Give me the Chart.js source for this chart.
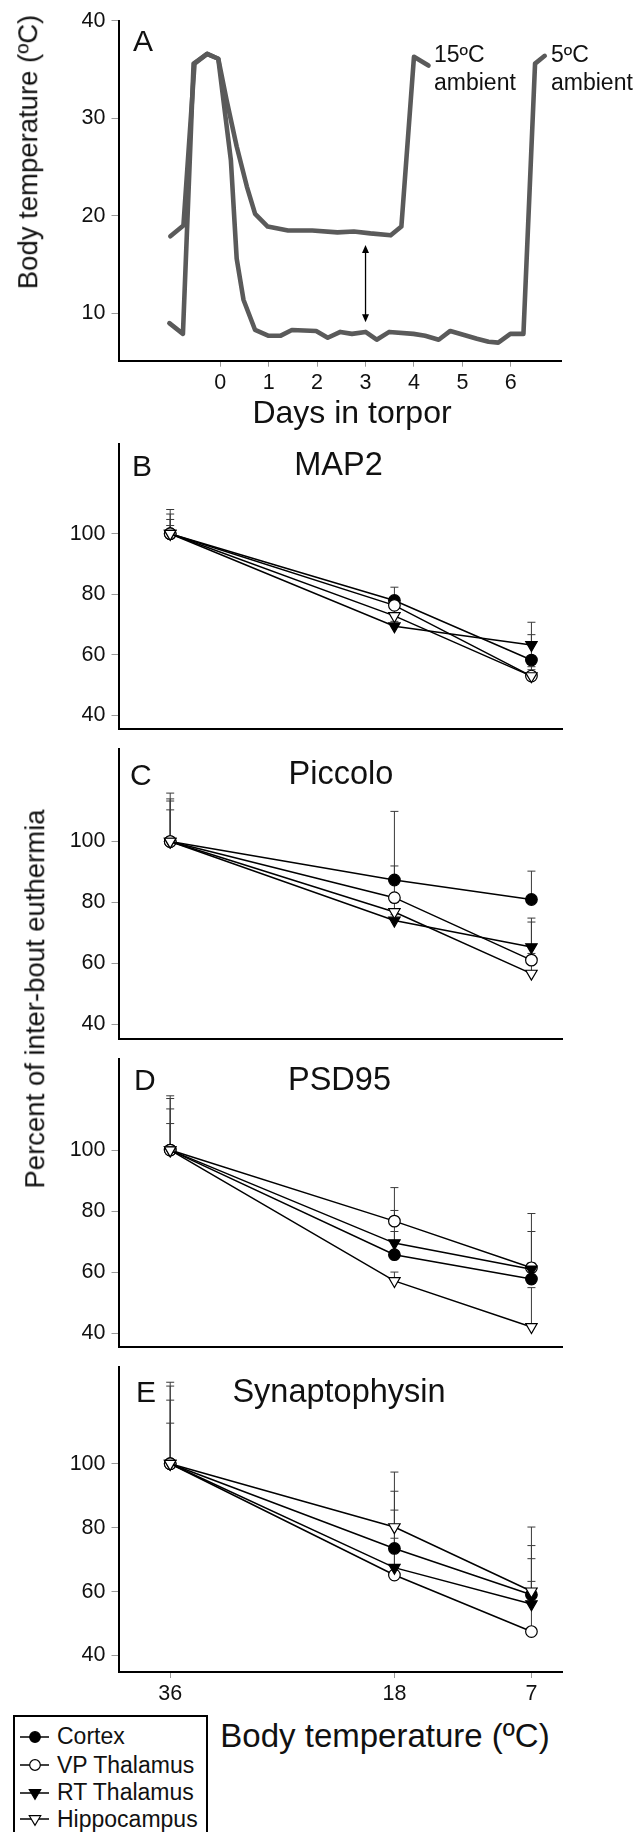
<!DOCTYPE html>
<html><head><meta charset="utf-8">
<script src="https://cdn.jsdelivr.net/npm/chart.js@4.4.0/dist/chart.umd.min.js"></script>
<style>
html,body{margin:0;padding:0;background:#fff;}
#wrap{position:relative;width:644px;height:1832px;overflow:hidden;font-family:'Liberation Sans',Arial,sans-serif;color:#111;}
canvas{position:absolute;left:0;}
.t{position:absolute;white-space:nowrap;line-height:1;}
</style></head><body><div id="wrap">
<canvas id="cA" width="644" height="440" style="top:0px"></canvas>
<canvas id="cB" width="644" height="323" style="top:425px"></canvas>
<canvas id="cC" width="644" height="328" style="top:730px"></canvas>
<canvas id="cD" width="644" height="326" style="top:1040px"></canvas>
<canvas id="cE" width="644" height="365" style="top:1348px"></canvas>
</div>
<script>
// ---------- Panel A data (body temperature, ºC, vs days in torpor) ----------
const days15 = [-1.03, -0.76, -0.53, -0.27, -0.04, 0.13, 0.34, 0.55, 0.72, 0.98, 1.40, 1.90, 2.42, 2.76, 3.10, 3.52, 3.74, 4.00, 4.30];
const temp15 = [17.9, 19.0, 35.6, 36.6, 36.1, 31.9, 27.1, 23.0, 20.2, 18.9, 18.5, 18.5, 18.3, 18.4, 18.2, 18.0, 18.9, 36.3, 35.4];
const days5 = [-1.05, -0.77, -0.55, -0.27, -0.04, 0.22, 0.34, 0.48, 0.72, 1.00, 1.24, 1.48, 1.98, 2.22, 2.48, 2.72, 3.00, 3.23, 3.49, 3.99, 4.23, 4.51, 4.75, 5.30, 5.54, 5.74, 5.99, 6.26, 6.50, 6.70];
const temp5 = [9.0, 7.9, 35.6, 36.6, 36.1, 25.7, 15.6, 11.4, 8.3, 7.7, 7.7, 8.3, 8.2, 7.5, 8.1, 7.9, 8.1, 7.3, 8.1, 7.9, 7.7, 7.3, 8.2, 7.4, 7.1, 7.0, 7.9, 7.9, 35.6, 36.4];
const arrowDay = 3, arrowTop = 17.0, arrowBottom = 9.1;
const dayTicks = [0, 1, 2, 3, 4, 5, 6];
const tempTicks = [10, 20, 30, 40];

// ---------- Panels B-E data (percent of inter-bout euthermia) ----------
const bodyTemps = [36, 18, 7];
const percentTicks = [40, 60, 80, 100];
const regions = ['Cortex', 'VP Thalamus', 'RT Thalamus', 'Hippocampus'];

const map2Cortex = [100, 77.9, 58.2], map2CortexUpper = [104.7, 82.3, 66.6];
const map2VP = [100, 76.3, 52.9], map2VPUpper = [106.5, 78.5, 56.0];
const map2RT = [100, 69.4, 63.2], map2RTUpper = [108.0, 71.0, 70.7];
const map2Hip = [100, 72.8, 52.9], map2HipUpper = [102.7, 75.0, 55.0];

const picCortex = [100, 87.4, 81.0], picCortexUpper = [115.9, 109.9, 90.3];
const picVP = [100, 81.6, 61.1], picVPUpper = [114.0, 92.0, 73.6];
const picRT = [100, 74.1, 65.4], picRTUpper = [113.3, 76.0, 74.9];
const picHip = [100, 76.9, 56.7], picHipUpper = [110.4, 80.0, 63.3];

const psdCortex = [100, 65.7, 57.7], psdCortexUpper = [117.8, 80.2, 63.0];
const psdVP = [100, 76.7, 61.4], psdVPUpper = [116.9, 87.7, 79.2];
const psdRT = [100, 69.5, 60.9], psdRTUpper = [113.5, 73.3, 73.3];
const psdHip = [100, 57.1, 42.0], psdHipUpper = [108.7, 60.0, 54.9];

const synCortex = [100, 73.5, 59.0], synCortexUpper = [125.5, 91.4, 74.4];
const synVP = [100, 65.2, 47.5], synVPUpper = [124.3, 76.7, 63.2];
const synRT = [100, 67.5, 56.1], synRTUpper = [119.9, 85.5, 70.3];
const synHip = [100, 80.2, 60.1], synHipUpper = [112.7, 97.4, 80.2];

// ---------- setup ----------
Chart.defaults.font.family = "'Liberation Sans', Arial, sans-serif";
Chart.defaults.color = '#111';
const wrap = document.getElementById('wrap');

const markerStyles = [
  {ps: 'circle', rot: 0, r: 5.8, fill: '#000'},
  {ps: 'circle', rot: 0, r: 5.8, fill: '#fff'},
  {ps: 'triangle', rot: 180, r: 6.6, fill: '#000'},
  {ps: 'triangle', rot: 180, r: 6.6, fill: '#fff'}
];

const errPlugin = {
  id: 'errbars',
  beforeDatasetsDraw(chart) {
    const ctx = chart.ctx, ys = chart.scales.y;
    ctx.save();
    ctx.strokeStyle = '#3a3a3a';
    ctx.lineWidth = 1;
    chart.data.datasets.forEach((ds, i) => {
      const meta = chart.getDatasetMeta(i);
      meta.data.forEach((pt, j) => {
        const up = ds.upper[j];
        const yt = ys.getPixelForValue(up);
        ctx.beginPath();
        ctx.moveTo(pt.x, pt.y);
        ctx.lineTo(pt.x, yt);
        ctx.moveTo(pt.x - 4, yt);
        ctx.lineTo(pt.x + 4, yt);
        ctx.stroke();
      });
    });
    ctx.restore();
  }
};

const arrowPlugin = {
  id: 'arrow',
  afterDatasetsDraw(chart) {
    const ctx = chart.ctx, xs = chart.scales.x, ys = chart.scales.y;
    const x = xs.getPixelForValue(arrowDay);
    const y1 = ys.getPixelForValue(arrowTop), y2 = ys.getPixelForValue(arrowBottom);
    ctx.save();
    ctx.strokeStyle = '#000'; ctx.fillStyle = '#000'; ctx.lineWidth = 1.3;
    ctx.beginPath(); ctx.moveTo(x, y1 + 6); ctx.lineTo(x, y2 - 6); ctx.stroke();
    ctx.beginPath(); ctx.moveTo(x, y1); ctx.lineTo(x - 3.5, y1 + 8); ctx.lineTo(x + 3.5, y1 + 8); ctx.closePath(); ctx.fill();
    ctx.beginPath(); ctx.moveTo(x, y2); ctx.lineTo(x - 3.5, y2 - 8); ctx.lineTo(x + 3.5, y2 - 8); ctx.closePath(); ctx.fill();
    ctx.restore();
  }
};

const zip = (xs, ys) => xs.map((x, i) => ({x: x, y: ys[i]}));

// ---------- Panel A ----------
new Chart(document.getElementById('cA'), {
  type: 'line',
  data: {datasets: [
    {label: '15ºC ambient', data: zip(days15, temp15), borderColor: '#5a5a5a', borderWidth: 4.6, pointRadius: 0, tension: 0, borderJoinStyle: 'round', borderCapStyle: 'round'},
    {label: '5ºC ambient', data: zip(days5, temp5), borderColor: '#5a5a5a', borderWidth: 4.6, pointRadius: 0, tension: 0, borderJoinStyle: 'round', borderCapStyle: 'round'}
  ]},
  options: {
    responsive: false, animation: false, events: [],
    layout: {padding: {top: 20.7, left: 0, right: 82.3, bottom: 0}, autoPadding: false},
    plugins: {legend: {display: false}, tooltip: {enabled: false}},
    scales: {
      x: {type: 'linear', min: -2.1, max: 7.05,
        afterBuildTicks: s => { s.ticks = dayTicks.map(v => ({value: v})); },
        afterFit: s => { s.height = 79.3; },
        ticks: {font: {size: 21.5}, padding: 3, maxRotation: 0, autoSkip: false},
        grid: {drawOnChartArea: false, tickLength: 6, color: '#999'},
        border: {display: true, color: '#000', width: 2}},
      y: {type: 'linear', min: 5.15, max: 40,
        afterBuildTicks: s => { s.ticks = tempTicks.map(v => ({value: v})); },
        afterFit: s => { s.width = 118.5; },
        ticks: {font: {size: 21.5}, padding: 6},
        grid: {drawOnChartArea: false, tickLength: 7, color: '#999'},
        border: {display: true, color: '#000', width: 2}}
    }
  },
  plugins: [arrowPlugin]
});

// ---------- Panels B-E ----------
function panel(id, yMin, yMax, xH, showX, series) {
  return new Chart(document.getElementById(id), {
    type: 'line',
    data: {datasets: series.map((s, i) => ({
      label: regions[i],
      order: 3 - i,
      data: zip(bodyTemps, s[0]),
      upper: s[1],
      borderColor: '#000', borderWidth: 1.5, tension: 0,
      pointStyle: markerStyles[i].ps, pointRotation: markerStyles[i].rot, pointRadius: markerStyles[i].r,
      pointBackgroundColor: markerStyles[i].fill, pointBorderColor: '#000', pointBorderWidth: 1.2
    }))},
    options: {
      responsive: false, animation: false, events: [],
      layout: {padding: {top: 15, left: 0, right: 81.3, bottom: 0}, autoPadding: false},
      plugins: {legend: {display: false}, tooltip: {enabled: false}},
      scales: {
        x: {type: 'linear', reverse: true, min: 4.49, max: 40.15,
          afterBuildTicks: s => { s.ticks = bodyTemps.map(v => ({value: v})); },
          afterFit: s => { s.height = xH; },
          ticks: {display: showX, font: {size: 21.5}, padding: 3, maxRotation: 0, autoSkip: false},
          grid: {display: showX, drawOnChartArea: false, drawTicks: showX, tickLength: 6, color: '#999'},
          border: {display: true, color: '#000', width: 2}},
        y: {type: 'linear', min: yMin, max: yMax,
          afterBuildTicks: s => { s.ticks = percentTicks.map(v => ({value: v})); },
          afterFit: s => { s.width = 118.5; },
          ticks: {font: {size: 21.5}, padding: 6},
          grid: {drawOnChartArea: false, tickLength: 7, color: '#999'},
          border: {display: true, color: '#000', width: 2}}
      }
    },
    plugins: [errPlugin]
  });
}

panel('cB', 35.36, 129.7, 3, false, [[map2Cortex, map2CortexUpper], [map2VP, map2VPUpper], [map2RT, map2RTUpper], [map2Hip, map2HipUpper]]);
panel('cC', 35.2, 130.4, 3, false, [[picCortex, picCortexUpper], [picVP, picVPUpper], [picRT, picRTUpper], [picHip, picHipUpper]]);
panel('cD', 35.4, 129.9, 3, false, [[psdCortex, psdCortexUpper], [psdVP, psdVPUpper], [psdRT, psdRTUpper], [psdHip, psdHipUpper]]);
panel('cE', 34.85, 130.3, 41, true, [[synCortex, synCortexUpper], [synVP, synVPUpper], [synRT, synRTUpper], [synHip, synHipUpper]]);

// ---------- text ----------
function txt(s, x, base, size, align) {
  const d = document.createElement('div');
  d.className = 't';
  d.textContent = s;
  d.style.fontSize = size + 'px';
  d.style.top = (base - 0.8465 * size) + 'px';
  d.style.left = x + 'px';
  if (align === 'center') d.style.transform = 'translateX(-50%)';
  wrap.appendChild(d);
}
function vtxt(s, cx, cy, size) {
  const d = document.createElement('div');
  d.className = 't';
  d.textContent = s;
  d.style.fontSize = size + 'px';
  d.style.left = cx + 'px';
  d.style.top = cy + 'px';
  d.style.transform = 'translate(-50%,-50%) rotate(-90deg)';
  wrap.appendChild(d);
}

txt('A', 133, 51.7, 30);
txt('15ºC', 434, 62, 23);
txt('ambient', 434, 90, 23);
txt('5ºC', 551, 62, 23);
txt('ambient', 551, 90, 23);
txt('Days in torpor', 352, 423.3, 32, 'center');
vtxt('Body temperature (ºC)', 28, 152, 27.5);

txt('B', 132, 476, 30);
txt('MAP2', 338.5, 476, 32.5, 'center');
txt('C', 130, 785, 30);
txt('Piccolo', 341, 785, 32.5, 'center');
txt('D', 134, 1090.7, 30);
txt('PSD95', 339.5, 1090.7, 32.5, 'center');
txt('E', 136, 1402.6, 30);
txt('Synaptophysin', 339, 1402.6, 32.5, 'center');
vtxt('Percent of inter-bout euthermia', 35, 999, 27.5);
txt('Body temperature (ºC)', 385, 1746.8, 33, 'center');

// ---------- legend ----------
const box = document.createElement('div');
box.style.cssText = 'position:absolute;left:13px;top:1715px;width:191px;height:140px;border:2px solid #000;';
wrap.appendChild(box);
const rowCenters = [1736.8, 1765.4, 1792.6, 1819.4];
regions.forEach((name, i) => {
  const cy = rowCenters[i];
  const st = markerStyles[i];
  const ns = 'http://www.w3.org/2000/svg';
  const svg = document.createElementNS(ns, 'svg');
  svg.setAttribute('width', '32'); svg.setAttribute('height', '16');
  svg.style.cssText = 'position:absolute;left:19px;top:' + (cy - 8) + 'px;';
  const ln = document.createElementNS(ns, 'line');
  ln.setAttribute('x1', '1'); ln.setAttribute('x2', '30'); ln.setAttribute('y1', '8'); ln.setAttribute('y2', '8');
  ln.setAttribute('stroke', '#000'); ln.setAttribute('stroke-width', '1.5');
  svg.appendChild(ln);
  let m;
  if (st.ps === 'circle') {
    m = document.createElementNS(ns, 'circle');
    m.setAttribute('cx', '16'); m.setAttribute('cy', '8'); m.setAttribute('r', '5.3');
  } else {
    m = document.createElementNS(ns, 'polygon');
    m.setAttribute('points', '10.3,4.7 21.7,4.7 16,14.3');
  }
  m.setAttribute('fill', st.fill); m.setAttribute('stroke', '#000'); m.setAttribute('stroke-width', '1.2');
  svg.appendChild(m);
  wrap.appendChild(svg);
  txt(name, 57, cy + 8, 23);
});
</script></body></html>
